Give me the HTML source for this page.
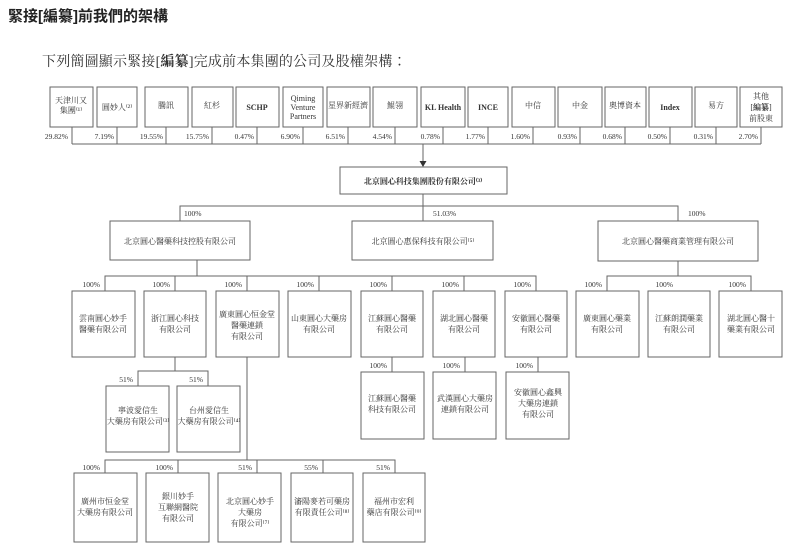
<!DOCTYPE html>
<html><head><meta charset="utf-8"><style>
html,body{margin:0;padding:0;background:#fff;width:807px;height:554px;overflow:hidden}
svg{display:block}
.t{font-family:"Liberation Serif","Noto Serif CJK SC",serif;font-size:8px;fill:#333;text-anchor:middle}
.p{font-family:"Liberation Serif","Noto Serif CJK SC",serif;font-size:7.5px;fill:#333}
.b{fill:#fff;stroke:#666;stroke-width:1}
.l{stroke:#666;stroke-width:1;fill:none}
</style></head><body>
<svg width="807" height="554" xmlns="http://www.w3.org/2000/svg">
<text x="8" y="21" style="font-family:'Liberation Sans','Noto Sans CJK TC',sans-serif;font-size:15px;font-weight:bold;fill:#222">緊接[編纂]前我們的架構</text>
<text x="42" y="66" style="font-family:'Liberation Serif','Noto Serif CJK TC',serif;font-size:14px;fill:#333;letter-spacing:0.2px">下列簡圖顯示緊接[<tspan font-weight="bold">編纂</tspan>]完成前本集團的公司及股權架構：</text>

<g>
<rect class="b" x="50" y="87" width="43" height="40"/>
<rect class="b" x="97" y="87" width="40" height="40"/>
<rect class="b" x="145" y="87" width="43" height="40"/>
<rect class="b" x="192" y="87" width="41" height="40"/>
<rect class="b" x="236" y="87" width="43" height="40"/>
<rect class="b" x="283" y="87" width="40" height="40"/>
<rect class="b" x="327" y="87" width="43" height="40"/>
<rect class="b" x="373" y="87" width="44" height="40"/>
<rect class="b" x="421" y="87" width="44" height="40"/>
<rect class="b" x="468" y="87" width="40" height="40"/>
<rect class="b" x="512" y="87" width="43" height="40"/>
<rect class="b" x="558" y="87" width="44" height="40"/>
<rect class="b" x="605" y="87" width="41" height="40"/>
<rect class="b" x="649" y="87" width="43" height="40"/>
<rect class="b" x="695" y="87" width="42" height="40"/>
<rect class="b" x="740" y="87" width="42" height="40"/>
</g>
<text class="t" x="71" y="103">天津川又</text><text class="t" x="71" y="113">集團⁽¹⁾</text>
<text class="t" x="117" y="110">圓妙人⁽²⁾</text>
<text class="t" x="166" y="108">騰訊</text>
<text class="t" x="212" y="108">紅杉</text>
<text class="t" x="257" y="110" font-weight="bold">SCHP</text>
<text class="t" x="303" y="101">Qiming</text><text class="t" x="303" y="110">Venture</text><text class="t" x="303" y="119">Partners</text>
<text class="t" x="348" y="108">星界新經濟</text>
<text class="t" x="395" y="108">鯤翎</text>
<text class="t" x="443" y="110" font-weight="bold">KL Health</text>
<text class="t" x="488" y="110" font-weight="bold">INCE</text>
<text class="t" x="533" y="108">中信</text>
<text class="t" x="580" y="108">中金</text>
<text class="t" x="625" y="108">奧博資本</text>
<text class="t" x="670" y="110" font-weight="bold">Index</text>
<text class="t" x="716" y="108">易方</text>
<text class="t" x="761" y="99">其他</text><text class="t" x="761" y="110">[<tspan font-weight="bold">編纂</tspan>]</text><text class="t" x="761" y="121">前股東</text>

<path class="l" d="M72 127V144M117 127V144M166 127V144M212 127V144M257 127V144M303 127V144M348 127V144M395 127V144M443 127V144M488 127V144M533 127V144M580 127V144M625 127V144M670 127V144M716 127V144M761 127V144M72 144H761"/>
<g class="p" text-anchor="end">
<text x="68" y="139">29.82%</text><text x="114" y="139">7.19%</text><text x="163" y="139">19.55%</text><text x="209" y="139">15.75%</text>
<text x="254" y="139">0.47%</text><text x="300" y="139">6.90%</text><text x="345" y="139">6.51%</text><text x="392" y="139">4.54%</text>
<text x="440" y="139">0.78%</text><text x="485" y="139">1.77%</text><text x="530" y="139">1.60%</text><text x="577" y="139">0.93%</text>
<text x="622" y="139">0.68%</text><text x="667" y="139">0.50%</text><text x="713" y="139">0.31%</text><text x="758" y="139">2.70%</text>
</g>
<path class="l" d="M423 144V162"/>
<polygon points="419.5,161 426.5,161 423,167" fill="#333"/>

<rect class="b" x="340" y="167" width="167" height="27"/>
<text class="t" x="423" y="184" font-weight="bold">北京圓心科技集團股份有限公司⁽³⁾</text>

<path class="l" d="M423 194V221M180 221V206H678V221"/>
<text class="p" x="184" y="216">100%</text>
<text class="p" x="433" y="216">51.03%</text>
<text class="p" x="688" y="216">100%</text>
<rect class="b" x="110" y="221" width="140" height="39"/>
<rect class="b" x="352" y="221" width="141" height="39"/>
<rect class="b" x="598" y="221" width="160" height="40"/>
<text class="t" x="180" y="244">北京圓心醫藥科技控股有限公司</text>
<text class="t" x="423" y="244">北京圓心惠保科技有限公司⁽⁵⁾</text>
<text class="t" x="678" y="244">北京圓心醫藥商業管理有限公司</text>

<path class="l" d="M197 260V276M105 291V276H536V291M175 276V291M247 276V291M319 276V291M392 276V291M464 276V291M678 261V276M607 291V276H751V291"/>
<g class="p" text-anchor="end">
<text x="100" y="287">100%</text><text x="170" y="287">100%</text><text x="242" y="287">100%</text><text x="314" y="287">100%</text>
<text x="387" y="287">100%</text><text x="459" y="287">100%</text><text x="531" y="287">100%</text>
<text x="602" y="287">100%</text><text x="673" y="287">100%</text><text x="746" y="287">100%</text>
</g>
<g>
<rect class="b" x="72" y="291" width="63" height="66"/>
<rect class="b" x="144" y="291" width="62" height="66"/>
<rect class="b" x="216" y="291" width="63" height="66"/>
<rect class="b" x="288" y="291" width="63" height="66"/>
<rect class="b" x="361" y="291" width="62" height="66"/>
<rect class="b" x="433" y="291" width="62" height="66"/>
<rect class="b" x="505" y="291" width="62" height="66"/>
<rect class="b" x="576" y="291" width="63" height="66"/>
<rect class="b" x="648" y="291" width="62" height="66"/>
<rect class="b" x="719" y="291" width="63" height="66"/>
</g>
<text class="t" x="103" y="321">雲南圓心妙手</text><text class="t" x="103" y="332">醫藥有限公司</text>
<text class="t" x="175" y="321">浙江圓心科技</text><text class="t" x="175" y="332">有限公司</text>
<text class="t" x="247" y="317">廣東圓心恒金堂</text><text class="t" x="247" y="328">醫藥連鎖</text><text class="t" x="247" y="339">有限公司</text>
<text class="t" x="319" y="321">山東圓心大藥房</text><text class="t" x="319" y="332">有限公司</text>
<text class="t" x="392" y="321">江蘇圓心醫藥</text><text class="t" x="392" y="332">有限公司</text>
<text class="t" x="464" y="321">湖北圓心醫藥</text><text class="t" x="464" y="332">有限公司</text>
<text class="t" x="536" y="321">安徽圓心醫藥</text><text class="t" x="536" y="332">有限公司</text>
<text class="t" x="607" y="321">廣東圓心藥業</text><text class="t" x="607" y="332">有限公司</text>
<text class="t" x="679" y="321">江蘇朗潤藥業</text><text class="t" x="679" y="332">有限公司</text>
<text class="t" x="751" y="321">湖北圓心醫十</text><text class="t" x="751" y="332">藥業有限公司</text>

<path class="l" d="M392 357V372M465 357V372M538 357V372"/>
<g class="p" text-anchor="end"><text x="387" y="368">100%</text><text x="460" y="368">100%</text><text x="533" y="368">100%</text></g>
<rect class="b" x="361" y="372" width="63" height="67"/>
<rect class="b" x="433" y="372" width="63" height="67"/>
<rect class="b" x="506" y="372" width="63" height="67"/>
<text class="t" x="392" y="401">江蘇圓心醫藥</text><text class="t" x="392" y="412">科技有限公司</text>
<text class="t" x="465" y="401">武漢圓心大藥房</text><text class="t" x="465" y="412">連鎖有限公司</text>
<text class="t" x="538" y="395">安徽圓心鑫興</text><text class="t" x="538" y="406">大藥房連鎖</text><text class="t" x="538" y="417">有限公司</text>

<path class="l" d="M175 357V371M138 386V371H208V386"/>
<g class="p" text-anchor="end"><text x="133" y="382">51%</text><text x="203" y="382">51%</text></g>
<rect class="b" x="106" y="386" width="63" height="66"/>
<rect class="b" x="177" y="386" width="63" height="66"/>
<text class="t" x="138" y="413">寧波愛信生</text><text class="t" x="138" y="424">大藥房有限公司⁽³⁾</text>
<text class="t" x="209" y="413">台州愛信生</text><text class="t" x="209" y="424">大藥房有限公司⁽⁴⁾</text>

<path class="l" d="M247 357V460M105 473V460H395V473M178 460V473M257 460V473M323 460V473"/>
<g class="p" text-anchor="end"><text x="100" y="470">100%</text><text x="173" y="470">100%</text><text x="252" y="470">51%</text><text x="318" y="470">55%</text><text x="390" y="470">51%</text></g>
<rect class="b" x="74" y="473" width="63" height="69"/>
<rect class="b" x="146" y="473" width="63" height="69"/>
<rect class="b" x="218" y="473" width="63" height="69"/>
<rect class="b" x="291" y="473" width="62" height="69"/>
<rect class="b" x="363" y="473" width="62" height="69"/>
<text class="t" x="105" y="504">廣州市恒金堂</text><text class="t" x="105" y="515">大藥房有限公司</text>
<text class="t" x="178" y="499">銀川妙手</text><text class="t" x="178" y="510">互聯網醫院</text><text class="t" x="178" y="521">有限公司</text>
<text class="t" x="250" y="504">北京圓心妙手</text><text class="t" x="250" y="515">大藥房</text><text class="t" x="250" y="526">有限公司⁽⁷⁾</text>
<text class="t" x="322" y="504">瀋陽麥若可藥房</text><text class="t" x="322" y="515">有限責任公司⁽⁸⁾</text>
<text class="t" x="394" y="504">福州市宏利</text><text class="t" x="394" y="515">藥店有限公司⁽⁹⁾</text>
</svg>
</body></html>
